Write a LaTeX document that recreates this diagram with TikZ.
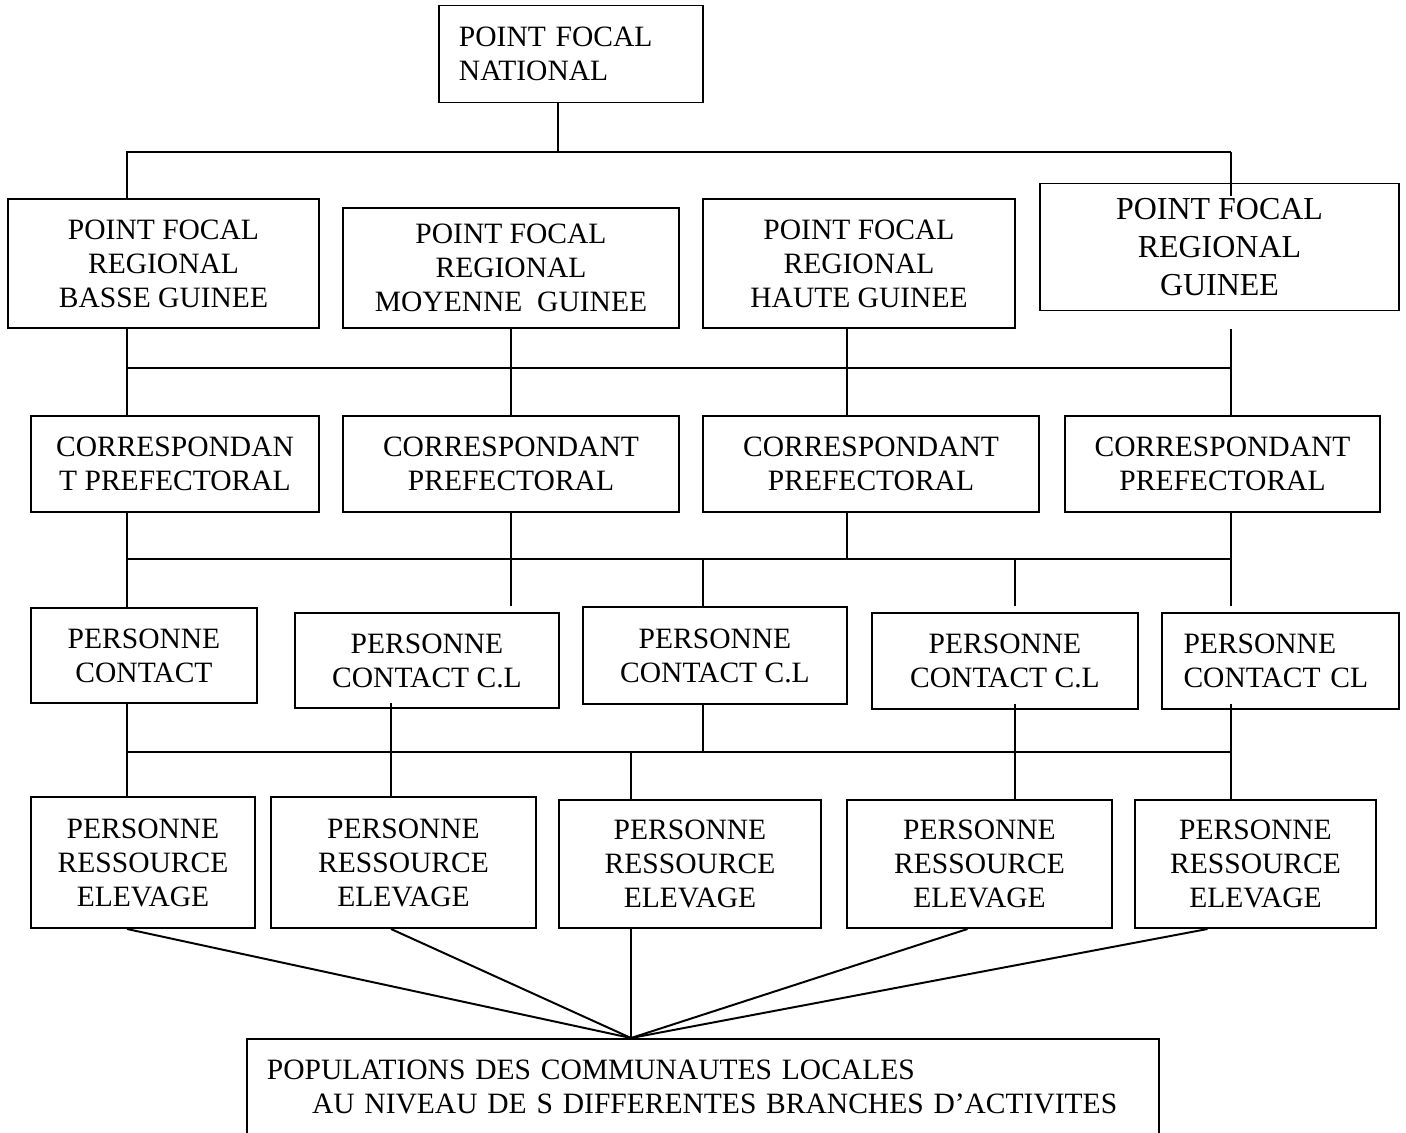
\documentclass[tikz,border=0pt]{standalone}
\usepackage{fontspec}
\setmainfont{Liberation Serif}

\newcommand{\tightspace}{\spaceskip=1.9pt\relax}

\tikzset{
  box/.style 2 args={draw, line width=0.8pt, inner sep=0pt,
    minimum width=#1*0.4065pt, minimum height=#2*0.4065pt,
    align=center, font=\fontsize{12}{13.8}\selectfont},
  link/.style={line width=0.8pt}
}

\begin{document}
\begin{tikzpicture}[x=0.4065pt, y=-0.4065pt]
\useasboundingbox (0,0) rectangle (1406,1133);

% Define nodes
% National level
\node[box={264}{97}, align=left, text width=91.06pt] (pfn) at (571,54) {POINT FOCAL\\NATIONAL};

% Regional level
\node[box={311}{129}] (pfb) at (163.5,263.5) {POINT FOCAL\\REGIONAL\\BASSE GUINEE};
\node[box={336}{120}] (pfm) at (511,268) {POINT FOCAL\\REGIONAL\\MOYENNE\ \ GUINEE};
\node[box={312}{129}] (pfh) at (859,263.5) {POINT FOCAL\\REGIONAL\\HAUTE GUINEE};
\node[box={359}{127}, font=\fontsize{13}{15.3}\selectfont] (pfg) at (1219.5,247) {POINT FOCAL\\REGIONAL\\GUINEE};

% Prefectoral level
\node[box={288}{96}] (cp1) at (175,464) {CORRESPONDAN\\T PREFECTORAL};
\node[box={336}{96}] (cp2) at (511,464) {CORRESPONDANT\\PREFECTORAL};
\node[box={336}{96}] (cp3) at (871,464) {CORRESPONDANT\\PREFECTORAL};
\node[box={315}{96}] (cp4) at (1222.5,464) {CORRESPONDANT\\PREFECTORAL};

% Contact level
\node[box={226}{95}] (pc1) at (144,655.5) {PERSONNE\\CONTACT};
\node[box={264}{95}] (pc2) at (427,660.5) {PERSONNE\\CONTACT C.L};
\node[box={264}{97}] (pc3) at (715,655.5) {PERSONNE\\CONTACT C.L};
\node[box={266}{96}] (pc4) at (1005,661) {PERSONNE\\CONTACT C.L};
\node[box={237}{96}, align=left, text width=78.86pt] (pc5) at (1280.5,661) {PERSONNE\\CONTACT CL};

% Resource level
\node[box={224}{131}] (pr1) at (143,862.5) {PERSONNE\\RESSOURCE\\ELEVAGE};
\node[box={265}{131}] (pr2) at (403.5,862.5) {PERSONNE\\RESSOURCE\\ELEVAGE};
\node[box={262}{128}] (pr3) at (690,864) {PERSONNE\\RESSOURCE\\ELEVAGE};
\node[box={265}{128}] (pr4) at (979.5,864) {PERSONNE\\RESSOURCE\\ELEVAGE};
\node[box={241}{128}] (pr5) at (1255.5,864) {PERSONNE\\RESSOURCE\\ELEVAGE};

% Local communities
\node[box={912}{96}, align=left, text width=354.47pt,
      font=\fontsize{12}{13.8}\selectfont\tightspace] (pop) at (703,1087)
  {POPULATIONS DES COMMUNAUTES LOCALES\\\hspace*{18.3pt}AU NIVEAU DE S DIFFERENTES BRANCHES D’ACTIVITES};

% Edges
% National -> regional
\coordinate (na1) at (127,152);
\coordinate (na2) at (558,152);
\coordinate (na3) at (1231,152);
\draw[link] (pfn.south -| na2) -- (na2);
\draw[link] (pfb.north -| na1) -- (na1) -- (na3);
\draw[link] (pfg.north -| na3) ++(0,13) -- (na3);

% Regional -> prefectoral
\coordinate (nb1) at (127,368);
\coordinate (nb2) at (511,368);
\coordinate (nb3) at (847,368);
\coordinate (nb4) at (1231,368);
\draw[link] (nb1) -- (nb4);
\draw[link] (pfb.south -| nb1) -- (cp1.north -| nb1);
\draw[link] (pfm.south -| nb2) -- (cp2.north -| nb2);
\draw[link] (pfh.south -| nb3) -- (cp3.north -| nb3);
\draw[link] (pfg.south -| nb4) ++(0,18) -- (cp4.north -| nb4);

% Prefectoral -> contact
\coordinate (nc1) at (127,559);
\coordinate (nc2) at (511,559);
\coordinate (nc3) at (703,559);
\coordinate (nc4) at (847,559);
\coordinate (nc5) at (1015,559);
\coordinate (nc6) at (1231,559);
\draw[link] (nc1) -- (nc6);
\draw[link] (cp1.south -| nc1) -- (pc1.north -| nc1);
\draw[link] (pc2.north -| nc2) ++(0,-6) -- (cp2.south -| nc2);
\draw[link] (cp3.south -| nc4) -- (nc4);
\draw[link] (nc3) -- (pc3.north -| nc3);
\draw[link] (pc4.north -| nc5) ++(0,-6) -- (nc5);
\draw[link] (pc5.north -| nc6) ++(0,-6) -- (cp4.south -| nc6);

% Contact -> resource
\coordinate (nd1) at (127,752);
\coordinate (nd2) at (391,752);
\coordinate (nd3) at (631,752);
\coordinate (nd4) at (703,752);
\coordinate (nd5) at (1015,752);
\coordinate (nd6) at (1231,752);
\draw[link] (nd1) -- (nd6);
\draw[link] (pc1.south -| nd1) -- (pr1.north -| nd1);
\draw[link] (pc2.south -| nd2) ++(0,-6) -- (pr2.north -| nd2);
\draw[link] (pc3.south -| nd4) -- (nd4);
\draw[link] (nd3) -- (pr3.north -| nd3);
\draw[link] (pc4.south -| nd5) ++(0,-6) -- (pr4.north -| nd5);
\draw[link] (pc5.south -| nd6) ++(0,-6) -- (pr5.north -| nd6);

% Resource -> populations
\coordinate (hub) at (pop.north -| nd3);
\draw[link] (pr1.south -| nd1) -- (hub);
\draw[link] (pr2.south -| nd2) -- (hub);
\draw[link] (pr3.south -| nd3) -- (hub);
\draw[link] (pr4.south) ++(-12,0) -- (hub);
\draw[link] (pr5.south) ++(-48,0) -- (hub);
\end{tikzpicture}
\end{document}
